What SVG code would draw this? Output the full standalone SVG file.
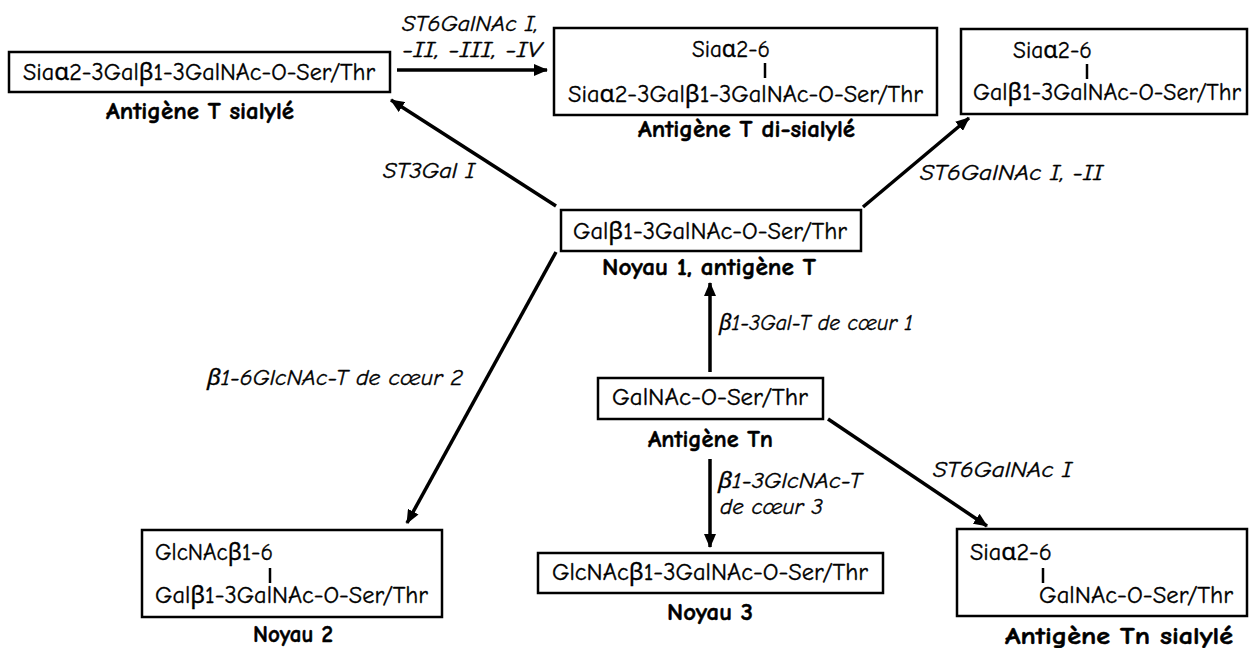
<svg xmlns="http://www.w3.org/2000/svg" width="1249" height="648" viewBox="0 0 1249 648">
<defs>
<style>
text{font-family:"Comic Sans MS","Comic Neue","Noto Sans","DejaVu Sans",sans-serif;font-size:24px;fill:#000;stroke:#000;stroke-width:0.35}
.b{font-weight:bold;stroke-width:0.5}
.i{font-style:italic;font-size:22px}
.box{fill:#fff;stroke:#000;stroke-width:2.5}
.bar{stroke:#000;stroke-width:2.5}
.arr{stroke:#000;stroke-width:3.5;fill:none;marker-end:url(#ah)}
</style>
<marker id="ah" viewBox="0 0 14 12" refX="13" refY="6" markerWidth="14" markerHeight="12" markerUnits="userSpaceOnUse" orient="auto">
<path d="M0,0 L14,6 L0,12 Z" fill="#000"/>
</marker>
</defs>
<rect width="1249" height="648" fill="#fff"/>

<g id="connectors">
<line class="arr" x1="397" y1="70" x2="547" y2="70"/>
<line class="arr" x1="556" y1="206" x2="391" y2="100"/>
<line class="arr" x1="863" y1="207" x2="969" y2="118"/>
<line class="arr" x1="710" y1="372" x2="710" y2="283"/>
<line class="arr" x1="556" y1="252" x2="407" y2="523"/>
<line class="arr" x1="710" y1="459" x2="710" y2="547"/>
<line class="arr" x1="828" y1="419" x2="987" y2="526"/>
<text class="i" x="402" y="31" textLength="136" lengthAdjust="spacingAndGlyphs">ST6GalNAc I,</text>
<text class="i" x="402" y="57" textLength="140" lengthAdjust="spacingAndGlyphs">-II, -III, -IV</text>
<text class="i" x="383" y="178" textLength="92" lengthAdjust="spacingAndGlyphs">ST3Gal I</text>
<text class="i" x="920" y="180" textLength="183" lengthAdjust="spacingAndGlyphs">ST6GalNAc I, -II</text>
<text class="i" x="719" y="330" textLength="194" lengthAdjust="spacingAndGlyphs">β1-3Gal-T de cœur 1</text>
<text class="i" x="207" y="385" textLength="256" lengthAdjust="spacingAndGlyphs">β1-6GlcNAc-T de cœur 2</text>
<text class="i" x="718" y="488" textLength="144" lengthAdjust="spacingAndGlyphs">β1-3GlcNAc-T</text>
<text class="i" x="720" y="514" textLength="103" lengthAdjust="spacingAndGlyphs">de cœur 3</text>
<text class="i" x="933" y="477" textLength="139" lengthAdjust="spacingAndGlyphs">ST6GalNAc I</text>
</g>

<g id="sialylT">
<rect class="box" x="9" y="52" width="381" height="40"/>
<text x="23" y="80" textLength="352" lengthAdjust="spacingAndGlyphs">Siaα2-3Galβ1-3GalNAc-O-Ser/Thr</text>
<text class="b" x="106" y="119" textLength="188" lengthAdjust="spacingAndGlyphs">Antigène T sialylé</text>
</g>

<g id="disialylT">
<rect class="box" x="554" y="28" width="383" height="87"/>
<text x="692" y="57" textLength="78" lengthAdjust="spacingAndGlyphs">Siaα2-6</text>
<line class="bar" x1="765" y1="63" x2="765" y2="78"/>
<text x="568" y="102" textLength="355" lengthAdjust="spacingAndGlyphs">Siaα2-3Galβ1-3GalNAc-O-Ser/Thr</text>
<text class="b" x="638" y="137" textLength="217" lengthAdjust="spacingAndGlyphs">Antigène T di-sialylé</text>
</g>

<g id="sia6T">
<rect class="box" x="961" y="29" width="286" height="85"/>
<text x="1013" y="58" textLength="79" lengthAdjust="spacingAndGlyphs">Siaα2-6</text>
<line class="bar" x1="1087" y1="64" x2="1087" y2="79"/>
<text x="973" y="100" textLength="268" lengthAdjust="spacingAndGlyphs">Galβ1-3GalNAc-O-Ser/Thr</text>
</g>

<g id="core1">
<rect class="box" x="561" y="210" width="300" height="41"/>
<text x="573" y="239" textLength="274" lengthAdjust="spacingAndGlyphs">Galβ1-3GalNAc-O-Ser/Thr</text>
<text class="b" x="602" y="275" textLength="214" lengthAdjust="spacingAndGlyphs">Noyau 1, antigène T</text>
</g>

<g id="tn">
<rect class="box" x="598" y="378" width="225" height="41"/>
<text x="612" y="405" textLength="196" lengthAdjust="spacingAndGlyphs">GalNAc-O-Ser/Thr</text>
<text class="b" x="648" y="447" textLength="125" lengthAdjust="spacingAndGlyphs">Antigène Tn</text>
</g>

<g id="core2">
<rect class="box" x="142" y="530" width="300" height="87"/>
<text x="155" y="560" textLength="118" lengthAdjust="spacingAndGlyphs">GlcNAcβ1-6</text>
<line class="bar" x1="270" y1="568" x2="270" y2="583"/>
<text x="155" y="603" textLength="273" lengthAdjust="spacingAndGlyphs">Galβ1-3GalNAc-O-Ser/Thr</text>
<text class="b" x="253" y="642" textLength="80" lengthAdjust="spacingAndGlyphs">Noyau 2</text>
</g>

<g id="core3">
<rect class="box" x="538" y="553" width="345" height="40"/>
<text x="552" y="580" textLength="316" lengthAdjust="spacingAndGlyphs">GlcNAcβ1-3GalNAc-O-Ser/Thr</text>
<text class="b" x="667" y="620" textLength="86" lengthAdjust="spacingAndGlyphs">Noyau 3</text>
</g>

<g id="sialylTn">
<rect class="box" x="957" y="529" width="290" height="87"/>
<text x="970" y="560" textLength="82" lengthAdjust="spacingAndGlyphs">Siaα2-6</text>
<line class="bar" x1="1043" y1="568" x2="1043" y2="583"/>
<text x="1039" y="603" textLength="194" lengthAdjust="spacingAndGlyphs">GalNAc-O-Ser/Thr</text>
<text class="b" x="1005" y="644" textLength="228" lengthAdjust="spacingAndGlyphs">Antigène Tn sialylé</text>
</g>
</svg>
